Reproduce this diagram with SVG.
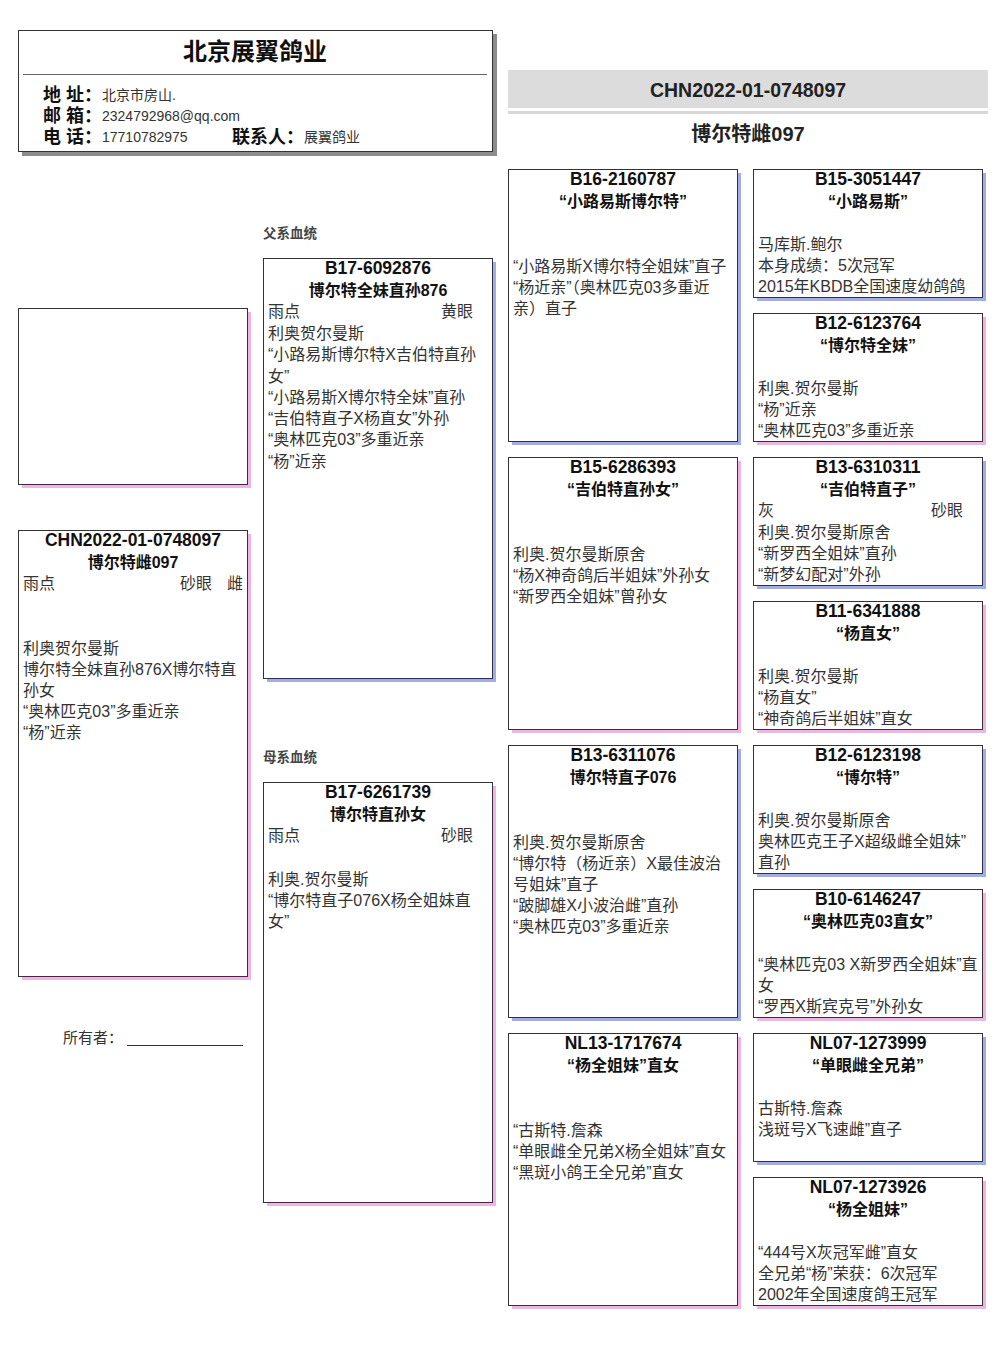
<svg xmlns="http://www.w3.org/2000/svg" width="1006" height="1366" viewBox="0 0 1006 1366">
<style>
text{font-family:"Liberation Sans","Noto Sans CJK SC",sans-serif}
.box{fill:#fff;stroke:#333;stroke-width:1}
.sm{fill:#a2abec}
.sf{fill:#f2b2e8}
.id{font-size:17.5px;font-weight:bold;text-anchor:middle;fill:#111}
.nm{font-size:16px;font-weight:bold;text-anchor:middle;fill:#111}
.b{font-size:16px;fill:#333}
.r{font-size:16px;fill:#333;text-anchor:end}
.lab{font-size:18px;font-weight:bold;fill:#111}
.val{font-size:14px;fill:#333}
.sec{font-size:13.5px;font-weight:bold;fill:#444}
</style>
<rect width="1006" height="1366" fill="#fff"/>

<g id="header">
<rect x="22" y="34" width="475" height="122" fill="#8c8c8c"/>
<rect x="18.5" y="30.5" width="474" height="121" fill="#fff" stroke="#333"/>
<text x="255" y="60" style="font-size:24px;font-weight:bold;text-anchor:middle;fill:#111">北京展翼鸽业</text>
<line x1="23" y1="74.5" x2="487" y2="74.5" stroke="#666" stroke-width="1"/>
<text class="lab" x="43" y="101">地 址：</text>
<text class="val" x="102" y="100">北京市房山.</text>
<text class="lab" x="43" y="122">邮 箱：</text>
<text class="val" x="102" y="121">2324792968@qq.com</text>
<text class="lab" x="43" y="143">电 话：</text>
<text class="val" x="102" y="142">17710782975</text>
<text class="lab" x="232" y="143">联系人：</text>
<text class="val" x="304" y="142">展翼鸽业</text>
</g>

<g id="banner">
<rect x="508" y="70" width="480" height="38" fill="#dcdcdc"/>
<line x1="508" y1="112.5" x2="988" y2="112.5" stroke="#d8d8d8" stroke-width="3"/>
<text x="748" y="97" style="font-size:19.5px;font-weight:bold;text-anchor:middle;fill:#222">CHN2022-01-0748097</text>
<text x="748" y="141" style="font-size:20px;font-weight:bold;text-anchor:middle;fill:#222">博尔特雌097</text>
</g>

<g id="connectors"></g>

<g id="photo">
<rect class="sf" x="22" y="312" width="229" height="176"/>
<rect class="box" x="18.5" y="308.5" width="229" height="176"/>
</g>

<g id="subject">
<rect class="sf" x="22" y="534" width="229" height="446"/>
<rect class="box" x="18.5" y="530.5" width="229" height="446"/>
<text class="id" x="133" y="546">CHN2022-01-0748097</text>
<text class="nm" x="133" y="567.5">博尔特雌097</text>
<text class="b" x="23" y="589">雨点</text>
<text class="r" x="212" y="589">砂眼</text>
<text class="r" x="243" y="589">雌</text>
<text class="b" x="23" y="654">利奥贺尔曼斯</text>
<text class="b" x="23" y="675">博尔特全妹直孙876X博尔特直</text>
<text class="b" x="23" y="696">孙女</text>
<text class="b" x="23" y="717">“奥林匹克03”多重近亲</text>
<text class="b" x="23" y="738">“杨”近亲</text>
</g>

<g id="owner">
<text x="63" y="1043" style="font-size:15px;fill:#333">所有者：</text>
<line x1="127" y1="1045.5" x2="243" y2="1045.5" stroke="#333" stroke-width="1"/>
</g>

<text class="sec" x="263" y="238">父系血统</text>
<text class="sec" x="263" y="762">母系血统</text>

<g id="sire">
<rect class="sm" x="267" y="262" width="229" height="420"/>
<rect class="box" x="263.5" y="258.5" width="229" height="420"/>
<text class="id" x="378" y="274">B17-6092876</text>
<text class="nm" x="378" y="295.5">博尔特全妹直孙876</text>
<text class="b" x="268" y="317">雨点</text>
<text class="r" x="473" y="317">黄眼</text>
<text class="b" x="268" y="339">利奥贺尔曼斯</text>
<text class="b" x="268" y="360">“小路易斯博尔特X吉伯特直孙</text>
<text class="b" x="268" y="381.5">女”</text>
<text class="b" x="268" y="402.5">“小路易斯X博尔特全妹”直孙</text>
<text class="b" x="268" y="424">“吉伯特直子X杨直女”外孙</text>
<text class="b" x="268" y="445">“奥林匹克03”多重近亲</text>
<text class="b" x="268" y="466.5">“杨”近亲</text>
</g>

<g id="dam">
<rect class="sf" x="267" y="786" width="229" height="420"/>
<rect class="box" x="263.5" y="782.5" width="229" height="420"/>
<text class="id" x="378" y="798">B17-6261739</text>
<text class="nm" x="378" y="819.5">博尔特直孙女</text>
<text class="b" x="268" y="841">雨点</text>
<text class="r" x="473" y="841">砂眼</text>
<text class="b" x="268" y="884.5">利奥.贺尔曼斯</text>
<text class="b" x="268" y="906">“博尔特直子076X杨全姐妹直</text>
<text class="b" x="268" y="927">女”</text>
</g>

<g id="ss">
<rect class="sm" x="512" y="173" width="229" height="272"/>
<rect class="box" x="508.5" y="169.5" width="229" height="272"/>
<text class="id" x="623" y="185">B16-2160787</text>
<text class="nm" x="623" y="206.5">“小路易斯博尔特”</text>
<text class="b" x="513" y="271.5">“小路易斯X博尔特全姐妹”直子</text>
<text class="b" x="513" y="293">“杨近亲”（奥林匹克03多重近</text>
<text class="b" x="513" y="314">亲）直子</text>
</g>

<g id="sd">
<rect class="sf" x="512" y="461" width="229" height="272"/>
<rect class="box" x="508.5" y="457.5" width="229" height="272"/>
<text class="id" x="623" y="473">B15-6286393</text>
<text class="nm" x="623" y="494.5">“吉伯特直孙女”</text>
<text class="b" x="513" y="559.5">利奥.贺尔曼斯原舍</text>
<text class="b" x="513" y="581">“杨X神奇鸽后半姐妹”外孙女</text>
<text class="b" x="513" y="602">“新罗西全姐妹”曾孙女</text>
</g>

<g id="ds">
<rect class="sm" x="512" y="749" width="229" height="272"/>
<rect class="box" x="508.5" y="745.5" width="229" height="272"/>
<text class="id" x="623" y="761">B13-6311076</text>
<text class="nm" x="623" y="782.5">博尔特直子076</text>
<text class="b" x="513" y="847.5">利奥.贺尔曼斯原舍</text>
<text class="b" x="513" y="869">“博尔特（杨近亲）X最佳波治</text>
<text class="b" x="513" y="890">号姐妹”直子</text>
<text class="b" x="513" y="911">“跛脚雄X小波治雌”直孙</text>
<text class="b" x="513" y="932">“奥林匹克03”多重近亲</text>
</g>

<g id="dd">
<rect class="sf" x="512" y="1037" width="229" height="272"/>
<rect class="box" x="508.5" y="1033.5" width="229" height="272"/>
<text class="id" x="623" y="1049">NL13-1717674</text>
<text class="nm" x="623" y="1070.5">“杨全姐妹”直女</text>
<text class="b" x="513" y="1135.5">“古斯特.詹森</text>
<text class="b" x="513" y="1157">“单眼雌全兄弟X杨全姐妹”直女</text>
<text class="b" x="513" y="1178">“黑斑小鸽王全兄弟”直女</text>
</g>

<g id="sss">
<rect class="sm" x="757" y="173" width="229" height="128"/>
<rect class="box" x="753.5" y="169.5" width="229" height="128"/>
<text class="id" x="868" y="185">B15-3051447</text>
<text class="nm" x="868" y="206.5">“小路易斯”</text>
<text class="b" x="758" y="249.5">马库斯.鲍尔</text>
<text class="b" x="758" y="271">本身成绩：5次冠军</text>
<text class="b" x="758" y="292">2015年KBDB全国速度幼鸽鸽</text>
</g>

<g id="ssd">
<rect class="sf" x="757" y="317" width="229" height="128"/>
<rect class="box" x="753.5" y="313.5" width="229" height="128"/>
<text class="id" x="868" y="329">B12-6123764</text>
<text class="nm" x="868" y="350.5">“博尔特全妹”</text>
<text class="b" x="758" y="393.5">利奥.贺尔曼斯</text>
<text class="b" x="758" y="415">“杨”近亲</text>
<text class="b" x="758" y="436">“奥林匹克03”多重近亲</text>
</g>

<g id="sds">
<rect class="sm" x="757" y="461" width="229" height="128"/>
<rect class="box" x="753.5" y="457.5" width="229" height="128"/>
<text class="id" x="868" y="473">B13-6310311</text>
<text class="nm" x="868" y="494.5">“吉伯特直子”</text>
<text class="b" x="758" y="516">灰</text>
<text class="r" x="963" y="516">砂眼</text>
<text class="b" x="758" y="537.5">利奥.贺尔曼斯原舍</text>
<text class="b" x="758" y="559">“新罗西全姐妹”直孙</text>
<text class="b" x="758" y="580">“新梦幻配对”外孙</text>
</g>

<g id="sdd">
<rect class="sf" x="757" y="605" width="229" height="128"/>
<rect class="box" x="753.5" y="601.5" width="229" height="128"/>
<text class="id" x="868" y="617">B11-6341888</text>
<text class="nm" x="868" y="638.5">“杨直女”</text>
<text class="b" x="758" y="681.5">利奥.贺尔曼斯</text>
<text class="b" x="758" y="703">“杨直女”</text>
<text class="b" x="758" y="724">“神奇鸽后半姐妹”直女</text>
</g>

<g id="dss">
<rect class="sm" x="757" y="749" width="229" height="128"/>
<rect class="box" x="753.5" y="745.5" width="229" height="128"/>
<text class="id" x="868" y="761">B12-6123198</text>
<text class="nm" x="868" y="782.5">“博尔特”</text>
<text class="b" x="758" y="825.5">利奥.贺尔曼斯原舍</text>
<text class="b" x="758" y="847">奥林匹克王子X超级雌全姐妹”</text>
<text class="b" x="758" y="868">直孙</text>
</g>

<g id="dsd">
<rect class="sf" x="757" y="893" width="229" height="128"/>
<rect class="box" x="753.5" y="889.5" width="229" height="128"/>
<text class="id" x="868" y="905">B10-6146247</text>
<text class="nm" x="868" y="926.5">“奥林匹克03直女”</text>
<text class="b" x="758" y="969.5">“奥林匹克03 X新罗西全姐妹”直</text>
<text class="b" x="758" y="991">女</text>
<text class="b" x="758" y="1012">“罗西X斯宾克号”外孙女</text>
</g>

<g id="dds">
<rect class="sm" x="757" y="1037" width="229" height="128"/>
<rect class="box" x="753.5" y="1033.5" width="229" height="128"/>
<text class="id" x="868" y="1049">NL07-1273999</text>
<text class="nm" x="868" y="1070.5">“单眼雌全兄弟”</text>
<text class="b" x="758" y="1113.5">古斯特.詹森</text>
<text class="b" x="758" y="1135">浅斑号X飞速雌”直子</text>
</g>

<g id="ddd">
<rect class="sf" x="757" y="1181" width="229" height="128"/>
<rect class="box" x="753.5" y="1177.5" width="229" height="128"/>
<text class="id" x="868" y="1193">NL07-1273926</text>
<text class="nm" x="868" y="1214.5">“杨全姐妹”</text>
<text class="b" x="758" y="1257.5">“444号X灰冠军雌”直女</text>
<text class="b" x="758" y="1279">全兄弟“杨”荣获：6次冠军</text>
<text class="b" x="758" y="1300">2002年全国速度鸽王冠军</text>
</g>
</svg>
